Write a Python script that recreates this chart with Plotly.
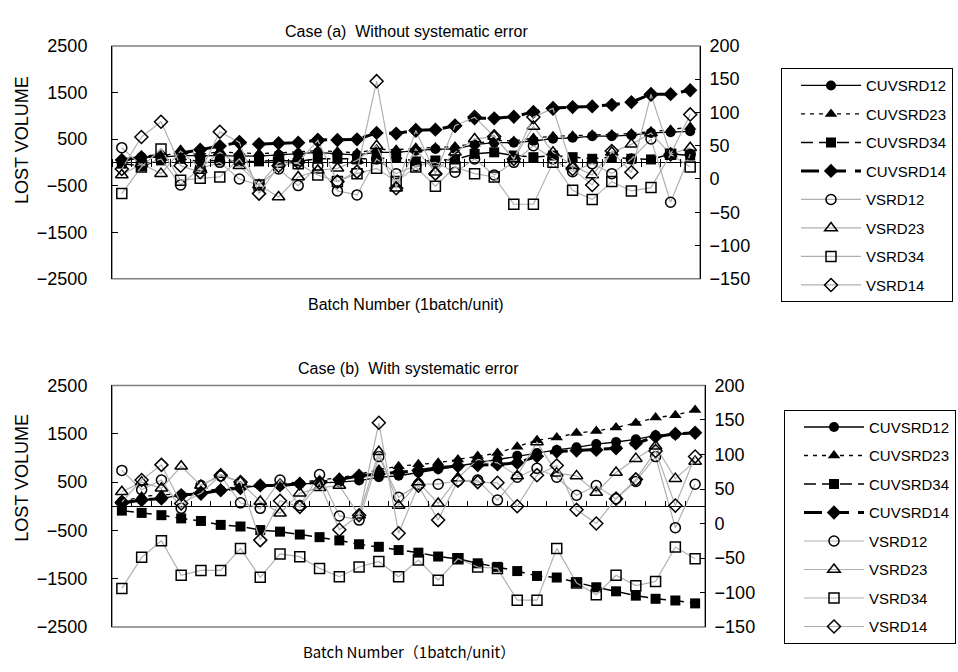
import plotly.graph_objects as go

# ---------------- data ----------------
batches = list(range(1, 31))
series_names = ["CUVSRD12", "CUVSRD23", "CUVSRD34", "CUVSRD14",
                "VSRD12", "VSRD23", "VSRD34", "VSRD14"]

# Case (a) without systematic error
cu12_a = [20, 111, 111, 146, 146, 146, 146, 132, 160, 180, 215, 180, 160, 215, 215,
          250, 285, 285, 380, 423, 423, 458, 507, 527, 562, 562, 583, 632, 645, 666]
cu23_a = [40, 90, 150, 200, 170, 230, 200, 190, 200, 220, 250, 230, 200, 280, 270,
          300, 320, 340, 400, 470, 460, 520, 560, 570, 590, 600, 620, 660, 700, 760]
cu34_a = [-28, -76, 42, 76, 20, 42, 20, 20, 42, 20, 76, 76, 62, 76, 111,
          20, 40, 60, 180, 215, 146, 111, 146, 111, 76, 111, 76, 62, 180, 146]
cu14_a = [50, 110, 150, 200, 270, 350, 430, 390, 410, 423, 479, 479, 493, 632, 618,
          687, 701, 784, 944, 944, 979, 1083, 1166, 1187, 1201, 1235, 1291, 1464, 1464, 1548]
v12_a = [47, 20, 30, -9, 16, 25, 0, -9, 15, -10, 20, -18, -24, 30, 8,
         20, 25, 10, 30, 6, 25, 50, 30, 11, 23, 8, 30, 60, -35, 37]
v23_a = [6, 23, 8, 42, 16, 40, 20, -9, -27, 3, 13, 16, 28, 50, -14,
         45, 10, 40, 60, 64, 30, 79, 40, 20, 6, 40, 52, 69, 37, 47]
v34_a = [-22, 18, 45, -2, 1, 3, 30, -9, 25, 23, 6, -4, 8, 16, -4,
         18, -11, 18, 8, 3, -38, -38, 25, -17, -31, -4, -18, -13, 37, 18]
v14_a = [15, 63, 86, 20, 10, 71, 55, -22, 20, 25, 58, -4, 11, 147, -14,
         73, 8, 80, 93, 64, 30, 93, 106, 15, -9, 42, 10, 127, 37, 97]

# Case (b) with systematic error
cu12_b = [97, 130, 164, 231, 264, 331, 378, 431, 431, 465, 485, 498, 532, 599, 632,
          699, 766, 833, 900, 967, 1047, 1100, 1167, 1221, 1288, 1330, 1385, 1468, 1485, 1522]
cu23_b = [100, 200, 240, 250, 300, 370, 400, 440, 470, 500, 540, 590, 660, 760, 830,
          870, 900, 970, 1040, 1100, 1234, 1368, 1422, 1516, 1556, 1630, 1725, 1835, 1885, 1990]
cu34_b = [-90, -137, -184, -251, -304, -385, -418, -492, -525, -585, -639, -706, -786, -839, -906,
          -960, -1040, -1087, -1180, -1254, -1341, -1442, -1475, -1575, -1676, -1760, -1850, -1915, -1950, -2010]
cu14_b = [64, 130, 160, 231, 264, 331, 378, 431, 431, 465, 498, 552, 632, 666, 700,
          740, 799, 833, 850, 866, 900, 1033, 1134, 1154, 1167, 1200, 1300, 1440, 1500, 1522]
v12_b = [77, 49, 63, 22, 55, 69, 30, 22, 63, 26, 71, 11, 5, 97, 38,
         57, 57, 62, 63, 34, 67, 80, 67, 41, 55, 36, 61, 97, -6, 57]
v23_b = [46, 60, 51, 83, 55, 71, 60, 32, 15, 44, 52, 55, 12, 104, 26,
         60, 29, 66, 93, 88, 69, 118, 73, 69, 45, 74, 94, 112, 65, 90]
v34_b = [-94, -49, -25, -75, -68, -68, -36, -78, -44, -48, -65, -77, -63, -55, -77,
         -53, -82, -51, -63, -65, -111, -111, -36, -86, -103, -75, -90, -84, -34, -51]
v14_b = [31, 63, 85, 29, 44, 70, 60, -24, 33, 24, 59, -9, 12, 146, -14,
         55, 5, 62, 60, 59, 25, 70, 84, 20, 0, 36, 64, 105, 26, 97]

left_ticks = [-2500, -1500, -500, 500, 1500, 2500]
right_ticks = [-150, -100, -50, 0, 50, 100, 150, 200]
boundaries = [b + 0.5 for b in range(0, 31)]

# ---------------- layout helpers ----------------
W, H = 958, 672
FONT = "Liberation Sans, Arial, sans-serif"

def fx(p):
    return p / W

def fy(p):
    return 1 - p / H

TOP = dict(x0=112, x1=700, y0=37, y1=277)
BOT = dict(x0=112, x1=705, y0=387, y1=636)

def zero_paper(box):
    return fy((box["y0"] + box["y1"]) / 2)

cu_styles = [
    dict(line=dict(color="black", width=1.3), marker=dict(symbol="circle", size=10, color="black")),
    dict(line=dict(color="black", width=1.3, dash="4px,5px"), marker=dict(symbol="triangle-up", size=11, color="black")),
    dict(line=dict(color="black", width=1.5, dash="12px,6px"), marker=dict(symbol="square", size=10, color="black")),
    dict(line=dict(color="black", width=3, dash="18px,9px"), marker=dict(symbol="diamond", size=11, color="black")),
]
v_styles = [
    dict(symbol="circle-open", size=10),
    dict(symbol="triangle-up-open", size=11),
    dict(symbol="square-open", size=10),
    dict(symbol="diamond-open", size=10),
]

fig = go.Figure()

def add_case(cu_list, v_list, xa, ya_left, ya_right, legend, gprefix):
    for k, (vals, st) in enumerate(zip(cu_list, cu_styles)):
        fig.add_trace(go.Scatter(
            x=batches, y=vals, name=series_names[k], mode="lines+markers",
            line=st["line"], marker=st["marker"], xaxis=xa, yaxis=ya_left,
            legend=legend, legendgroup=f"{gprefix}{k}", cliponaxis=False))
    for k, (vals, ms) in enumerate(zip(v_list, v_styles)):
        fig.add_trace(go.Scatter(
            x=batches, y=vals, name=series_names[4 + k], mode="lines+markers",
            line=dict(color="#b0b0b0", width=1.2),
            marker=dict(symbol=ms["symbol"], size=ms["size"], color="black", line=dict(width=1.5)),
            xaxis=xa, yaxis=ya_right, legend=legend, legendgroup=f"{gprefix}{4 + k}",
            cliponaxis=False))

add_case([cu12_a, cu23_a, cu34_a, cu14_a], [v12_a, v23_a, v34_a, v14_a], "x", "y", "y2", "legend", "a")
add_case([cu12_b, cu23_b, cu34_b, cu14_b], [v12_b, v23_b, v34_b, v14_b], "x2", "y3", "y4", "legend2", "b")

tickfont = dict(family=FONT, size=18, color="black")

def xaxis_cfg(box, ticks, ticklen, offset_px):
    return dict(domain=[fx(box["x0"]), fx(box["x1"])], range=[0.5, 30.5],
                anchor="free", position=zero_paper(box) + offset_px / H,
                showline=False, showgrid=False, zeroline=False,
                ticks=ticks, ticklen=ticklen, tickwidth=1, tickcolor="black",
                tickmode="array", tickvals=boundaries, showticklabels=False)

def yleft_cfg(box, anchor):
    return dict(domain=[fy(box["y1"]), fy(box["y0"])], range=[-2500, 2500], anchor=anchor,
                tickmode="array", tickvals=left_ticks, ticks="inside", ticklen=6,
                tickcolor="black", showline=True, linecolor="black", linewidth=1,
                showgrid=False, zeroline=True, zerolinecolor="black", zerolinewidth=1,
                tickfont=tickfont, ticklabelstandoff=20)

def yright_cfg(box, anchor, overlay):
    return dict(range=[-150, 200], anchor=anchor, overlaying=overlay, side="right",
                tickmode="array", tickvals=right_ticks, ticks="inside", ticklen=5,
                tickcolor="black", showline=True, linecolor="black", linewidth=1,
                showgrid=False, zeroline=False, tickfont=tickfont, ticklabelstandoff=5)

legend_common = dict(bordercolor="black", borderwidth=1, bgcolor="white",
                     font=dict(family=FONT, size=15, color="black"),
                     tracegroupgap=6, traceorder="grouped", itemwidth=60, indentation=14,
                     xanchor="left", yanchor="top", itemclick=False)

fig.update_layout(
    width=W, height=H, autosize=False,
    margin=dict(l=0, r=0, t=0, b=0),
    paper_bgcolor="white", plot_bgcolor="white",
    font=dict(family=FONT, size=15, color="black"),
    xaxis=xaxis_cfg(TOP, "outside", 8, 4),
    xaxis2=xaxis_cfg(BOT, "inside", 5, 0),
    yaxis=yleft_cfg(TOP, "x"),
    yaxis2=yright_cfg(TOP, "x", "y"),
    yaxis3=yleft_cfg(BOT, "x2"),
    yaxis4=yright_cfg(BOT, "x2", "y3"),
    legend=dict(x=fx(781), y=fy(60), **legend_common),
    legend2=dict(x=fx(784), y=fy(412), **legend_common),
    showlegend=True,
)

# plot-area frames (gray)
for xr, yr in (("x domain", "y domain"), ("x2 domain", "y3 domain")):
    fig.add_shape(type="rect", xref=xr, yref=yr, x0=0, x1=1, y0=0, y1=1,
                  line=dict(color="#808080", width=1.5), layer="below")

ann = []
ann.append(dict(text="Case (a)\u00a0\u00a0Without systematic error", x=fx((TOP["x0"] + TOP["x1"]) / 2), y=fy(22)))
ann.append(dict(text="Case (b)\u00a0\u00a0With systematic error", x=fx((BOT["x0"] + BOT["x1"]) / 2), y=fy(370)))
ann.append(dict(text="Batch Number (1batch/unit)", x=fx((TOP["x0"] + TOP["x1"]) / 2), y=fy(304)))
ann.append(dict(text="Batch Number\uff081batch/unit\uff09", x=fx((BOT["x0"] + BOT["x1"]) / 2), y=fy(661),
                font=dict(family="Noto Sans CJK JP, Liberation Sans", size=15, color="black")))
for a in ann:
    a.setdefault("font", dict(family=FONT, size=16, color="black"))
    fig.add_annotation(xref="paper", yref="paper", showarrow=False,
                       xanchor="center", yanchor="middle", **a)
for yc in (134, 482):
    fig.add_annotation(text="LOST VOLUME", xref="paper", yref="paper", x=fx(22), y=fy(yc),
                       textangle=-90, showarrow=False, xanchor="center", yanchor="middle",
                       font=dict(family=FONT, size=18, color="black"))

fig.write_html("out.html", config={"displayModeBar": False},
               post_script="document.body.style.margin='0px';")
